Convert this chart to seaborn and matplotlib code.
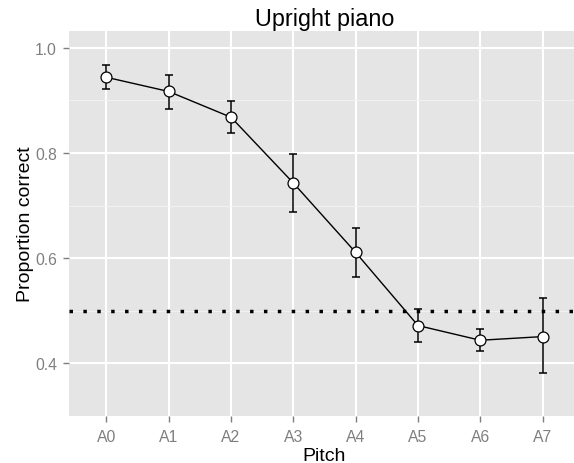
import numpy as np
import pandas as pd
import matplotlib
matplotlib.use("Agg")
import matplotlib.pyplot as plt
import seaborn as sns

# Proportion correct per pitch, with lower / upper error bounds
pitches = ["A0", "A1", "A2", "A3", "A4", "A5", "A6", "A7"]
prop_correct = [0.944, 0.917, 0.868, 0.743, 0.611, 0.472, 0.444, 0.451]
err_low = [0.921, 0.884, 0.838, 0.688, 0.565, 0.441, 0.423, 0.381]
err_high = [0.967, 0.949, 0.898, 0.798, 0.657, 0.503, 0.466, 0.524]
chance_level = 0.5

y_ticks = [0.4, 0.6, 0.8, 1.0]
y_tick_labels = ["0.4", "0.6", "0.8", "1.0"]

df = pd.DataFrame({
    "pos": np.arange(len(pitches)),
    "pitch": pitches,
    "prop": prop_correct,
    "lo": err_low,
    "hi": err_high,
})

plt.rcParams["font.family"] = ["Liberation Sans", "DejaVu Sans"]

W, H = 574, 464
fig = plt.figure(figsize=(W / 100, H / 100), dpi=100)
left, right, top, bottom = 69, 580, 32, 417
ax = fig.add_axes([left / W, 1 - bottom / H, (right - left) / W, (bottom - top) / H])
ax.set_facecolor("#E5E5E5")
ax.set_axisbelow(False)

# chance level
ax.axhline(chance_level, color="black", lw=2.5, linestyle=(0, (1, 3)),
           dash_capstyle="butt", zorder=2.6)

# error bars
ax.errorbar(df["pos"], df["prop"],
            yerr=[df["prop"] - df["lo"], df["hi"] - df["prop"]],
            fmt="none", ecolor="black", elinewidth=1.1, capsize=2.6,
            capthick=1.1, zorder=3)

# connecting line and points
sns.lineplot(data=df, x="pos", y="prop", color="black", lw=1.0,
             ax=ax, zorder=4, errorbar=None)
sns.scatterplot(data=df, x="pos", y="prop", s=62, color="white",
                edgecolor="black", linewidth=0.9, ax=ax, zorder=5)

ax.set_xlim(-0.6, len(pitches) - 1 + 0.6)
ax.set_ylim(0.318, 1.032)
ax.set_xticks(df["pos"])
ax.set_xticklabels(pitches)
ax.set_yticks(y_ticks)
ax.set_yticklabels(y_tick_labels)
ax.set_yticks([0.3, 0.5, 0.7, 0.9], minor=True)

ax.grid(True, which="major", color="white", lw=1.5)
ax.grid(True, which="minor", axis="y", color="#F2F2F2", lw=0.7)
for sp in ax.spines.values():
    sp.set_visible(False)

ax.tick_params(axis="both", which="major", length=4.2, width=1.0,
               bottom=True, left=True, direction="out",
               color="#7F7F7F", labelcolor="#7F7F7F", labelsize=11.3)
ax.tick_params(axis="x", pad=5.0)
ax.tick_params(axis="y", pad=4.4)
ax.tick_params(which="minor", length=0)

ax.set_xlabel("Pitch", fontsize=14, color="black", labelpad=2)
ax.set_ylabel("Proportion correct", fontsize=14, color="black", labelpad=1)
ax.set_title("Upright piano", fontsize=16.8, color="black", pad=4)

fig.savefig("out.png", dpi=100, facecolor="white")
